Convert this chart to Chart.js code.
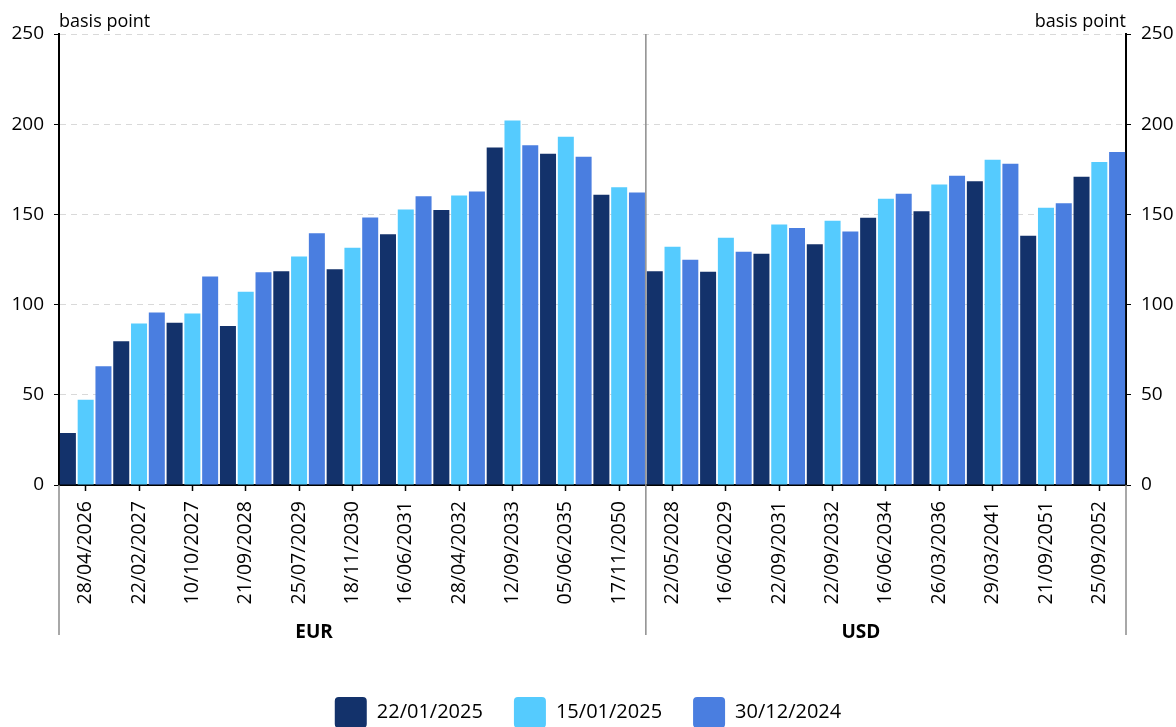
<!DOCTYPE html>
<html>
<head>
<meta charset="utf-8">
<script src="https://cdn.jsdelivr.net/npm/chart.js@4"></script>
<style>
  body { margin: 0; overflow: hidden; background: #fff; }
  #wrap { width: 1176px; height: 738px; position: relative; }
</style>
</head>
<body>
<div id="wrap"><canvas id="spreadChart"></canvas></div>
<script>
// Bond maturities, grouped by currency
const eurDates = ['28/04/2026', '22/02/2027', '10/10/2027', '21/09/2028', '25/07/2029', '18/11/2030',
    '16/06/2031', '28/04/2032', '12/09/2033', '05/06/2035', '17/11/2050'];
const usdDates = ['22/05/2028', '16/06/2029', '22/09/2031', '22/09/2032', '16/06/2034', '26/03/2036',
    '29/03/2041', '21/09/2051', '25/09/2052'];
const labels = eurDates.concat(usdDates);

// Spread values (basis points)
const jan22 = [28.8, 79.7, 90.0, 88.2, 118.5, 119.6, 139.0, 152.4, 187.1, 183.6, 160.9,
    118.5, 118.2, 128.2, 133.5, 148.1, 151.8, 168.4, 138.1, 170.9];
const jan15 = [47.3, 89.5, 95.0, 107.1, 126.7, 131.5, 152.7, 160.5, 202.1, 193.1, 165.1,
    132.0, 137.0, 144.4, 146.5, 158.7, 166.6, 180.3, 153.7, 179.0];
const dec30 = [65.8, 95.6, 115.6, 118.0, 139.6, 148.3, 160.1, 162.7, 188.3, 182.0, 162.2,
    124.8, 129.3, 142.4, 140.5, 161.4, 171.4, 178.1, 156.2, 184.6];

const seriesNames = ['22/01/2025', '15/01/2025', '30/12/2024'];
const seriesColors = ['#13326b', '#55cbfe', '#4a7ee0'];

const fontFamily = "'Open Sans', 'Liberation Sans', sans-serif";

// Extra drawing: currency group labels, separators, unit text
const groupPlugin = {
    id: 'groupPlugin',
    afterDraw(chart) {
        const ctx = chart.ctx;
        const x = chart.scales.x;
        const area = chart.chartArea;
        const bottom = 635;

        ctx.save();
        ctx.strokeStyle = '#8c8c8c';
        ctx.lineWidth = 1.5;

        // separator between EUR and USD
        const sep = x.getPixelForValue(eurDates.length - 0.5);
        ctx.beginPath();
        ctx.moveTo(sep, area.top);
        ctx.lineTo(sep, bottom);
        ctx.stroke();

        // outer lines below the axis
        ctx.beginPath();
        ctx.moveTo(area.left, area.bottom);
        ctx.lineTo(area.left, bottom);
        ctx.moveTo(area.right, area.bottom);
        ctx.lineTo(area.right, bottom);
        ctx.stroke();

        // group labels
        ctx.fillStyle = '#000';
        ctx.font = `bold 19px ${fontFamily}`;
        ctx.textAlign = 'center';
        ctx.textBaseline = 'middle';
        ctx.fillText('EUR', x.getPixelForValue(4.28), 633);
        ctx.fillText('USD', x.getPixelForValue(14.53), 633);

        // unit labels
        ctx.font = `18px ${fontFamily}`;
        ctx.textBaseline = 'alphabetic';
        ctx.textAlign = 'left';
        ctx.fillText('basis point', area.left, 27);
        ctx.textAlign = 'right';
        ctx.fillText('basis point', area.right, 27);
        ctx.restore();
    }
};

const datasets = [jan22, jan15, dec30].map((values, i) => ({
    label: seriesNames[i],
    data: values,
    backgroundColor: seriesColors[i],
    borderWidth: 0,
    barPercentage: 0.9,
    categoryPercentage: 1.0,
    yAxisID: 'y'
}));

new Chart(document.getElementById('spreadChart'), {
    type: 'bar',
    data: { labels: labels, datasets: datasets },
    plugins: [groupPlugin],
    options: {
        responsive: true,
        maintainAspectRatio: false,
        animation: false,
        layout: { padding: { top: 34, left: 0, right: 0, bottom: 0 } },
        plugins: {
            tooltip: { enabled: false },
            legend: {
                position: 'bottom',
                labels: {
                    boxWidth: 32,
                    boxHeight: 31,
                    useBorderRadius: true,
                    borderRadius: 4,
                    padding: 31,
                    color: '#000',
                    font: { family: fontFamily, size: 20 }
                }
            }
        },
        scales: {
            x: {
                offset: true,
                grid: {
                    offset: false,
                    drawOnChartArea: false,
                    color: '#000',
                    tickLength: 6,
                    tickWidth: 1.5
                },
                border: { color: '#000', width: 2 },
                ticks: {
                    autoSkip: false,
                    minRotation: 90,
                    maxRotation: 90,
                    padding: 10,
                    color: '#000',
                    font: { family: fontFamily, size: 19.5 }
                },
                afterFit(scale) { scale.height = 181; }
            },
            y: {
                position: 'left',
                min: 0,
                max: 250,
                ticks: {
                    stepSize: 50,
                    padding: 10,
                    color: '#000',
                    font: { family: fontFamily, size: 19 }
                },
                grid: {
                    color: '#d9d9d9',
                    lineWidth: 1,
                    tickColor: '#000',
                    tickLength: 5
                },
                border: { color: '#000', width: 2, dash: [6, 5] },
                afterFit(scale) { scale.width = 59; }
            },
            y2: {
                position: 'right',
                min: 0,
                max: 250,
                ticks: {
                    stepSize: 50,
                    padding: 10,
                    color: '#000',
                    font: { family: fontFamily, size: 19 }
                },
                grid: {
                    drawOnChartArea: false,
                    tickColor: '#000',
                    tickLength: 5
                },
                border: { color: '#000', width: 2 },
                afterFit(scale) { scale.width = 50; }
            }
        }
    }
});
</script>
</body>
</html>
